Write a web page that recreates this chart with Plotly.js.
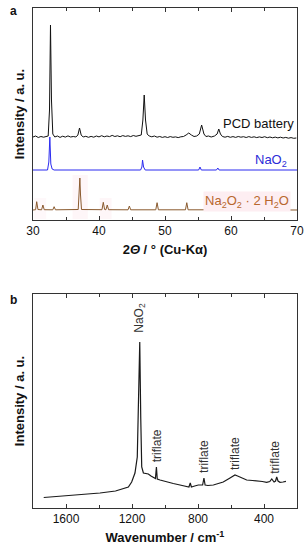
<!DOCTYPE html>
<html>
<head>
<meta charset="utf-8">
<script src="https://cdn.plot.ly/plotly-3.0.1.min.js"></script>
<style>html,body{margin:0;padding:0;background:#fff;}#chart{width:305px;height:550px;}</style>
</head>
<body>
<div id="chart"></div>
<script>
// ---- Panel a: XRD (2θ in degrees, intensity in arbitrary offset units) ----
const pcdX = [30,30.4,30.8,31.2,31.6,32.0,32.3,32.5,32.65,32.8,33.0,33.3,33.7,34.1,34.5,34.9,35.3,35.7,36.1,36.5,36.8,37.05,37.3,37.6,38.0,38.4,38.8,39.2,39.6,40.0,40.4,40.8,41.2,41.6,42.0,42.4,42.8,43.2,43.6,44.0,44.4,44.8,45.2,45.6,46.0,46.4,46.65,46.85,47.05,47.3,47.6,48.0,48.4,48.8,49.2,49.6,50.0,50.4,50.8,51.2,51.6,52.0,52.4,52.8,53.2,53.6,54.0,54.4,54.8,55.2,55.55,55.9,56.2,56.6,57.0,57.5,57.9,58.15,58.4,58.7,59.1,59.5,59.9,60.3,60.7,61.1,61.5,61.9,62.3,62.7,63.1,63.5,63.9,64.3,64.7,65.1,65.5,65.9,66.3,66.7,67.1,67.5,67.9,68.3,68.7,69.1,69.5,69.9];
const pcdY = [83,84,82.5,83.5,82.8,83.6,84,110,195,120,86,83,84,82.6,83.8,82.9,84.1,83,83.5,83,85,92,85,83,83.7,82.7,83.6,82.8,84,83.1,84.3,83.2,84,83.4,84.6,83.5,84.2,83.3,84.4,83.6,84.2,83.4,84.5,83.7,84,85,100,125,100,86,84,83.2,84,82.8,83.5,82.6,83.3,82.5,83.4,82.7,83.1,82.4,83.2,83.5,85,87,85,83.5,84,86,95,86,83.5,84,83,84,86,91,86,83.5,82.8,83.6,82.7,83.4,82.6,83.5,82.8,83.3,82.5,83.4,82.6,83.2,82.4,83.1,82.5,83.3,82.3,83,82.2,82.9,82.1,82.8,82,82.6,81.8,82.4,81.7,82];

const naO2X = [30,32.2,32.4,32.55,32.7,32.9,33.2,46.3,46.5,46.6,46.75,47.0,55.1,55.3,55.5,57.8,58.0,58.2,70];
const naO2Y = [50,50,58,83,56,51,50,50,53,60,53,50,50,53,50,50,52,50,50];

const hydX = [30,30.4,30.56,30.75,31.3,31.5,31.7,33.0,33.2,33.4,36.85,37.0,37.1,37.2,37.35,40.45,40.65,40.85,41.05,41.25,41.45,44.4,44.6,44.8,48.6,48.8,49.0,53.1,53.3,53.5,56.5,56.7,56.9,59.2,59.4,59.6,70];
const hydY = [10,10.3,18.3,10.5,10.2,15,10.3,10.2,13.3,10.2,10.5,25,42,25,10.5,10.3,17.7,10.5,10.3,15,10.3,10.2,14,10.2,10.2,17.3,10.2,10.2,17.3,10.2,10.2,17.3,10.2,10.1,12,10.1,10];

const xrdTicks = [30,40,50,60,70];
const xrdMinorTicks = [35,45,55,65];

// ---- Panel b: Raman (wavenumber in cm-1, intensity a.u.) ----
const ramanX = [1735,1650,1556,1450,1394,1300,1253,1222,1202,1182,1168,1160,1153,1147,1141,1131,1115,1101,1085,1070,1058,1052,1047,1030,990,950,909,869,855,847,840,820,798,772,764,757,740,707,670,647,606,590,576,560,545,525,505,470,444,410,384,365,353,345,339,330,323,315,303,285,267];
const ramanY = [10.5,11.5,12.5,14,15,17,19,21,26,35,51,100,166,90,41,35,34.5,34,32,31,29.5,41,29,28,26,24.5,23,21,21,25,21,22,23,23,30,23,22.5,23,24.5,26,30,32,33,32,31,29,28,27.5,27.3,26.5,25.7,26.5,29,26.5,26,27,31,27,25.7,26,26.7];

const ramanTicks = [1600,1200,800,400];
const ramanMinorTicks = [1400,1000,600,200];

// label positions (wavenumber, intensity) for peak labels
const ramanLabels = ['NaO<sub>2</sub>','triflate','triflate','triflate','triflate'];
const ramanLabelX = [1153,1050,764,576,335];
const ramanLabelY = [190,62.5,52,55,51];

const FONT = 'Arial, "Liberation Sans", sans-serif';
const AX = '#333';

const traces = [
  {x: pcdX, y: pcdY, xaxis:'x', yaxis:'y', mode:'lines', line:{color:'#111', width:1}, hoverinfo:'skip'},
  {x: naO2X, y: naO2Y, xaxis:'x', yaxis:'y', mode:'lines', line:{color:'#2b2bf0', width:1}, hoverinfo:'skip'},
  {x: hydX, y: hydY, xaxis:'x', yaxis:'y', mode:'lines', line:{color:'#8a5a2e', width:1}, hoverinfo:'skip'},
  {x: ramanX, y: ramanY, xaxis:'x2', yaxis:'y2', mode:'lines', line:{color:'#1a1a1a', width:1.2}, hoverinfo:'skip'}
];

const annotations = [
  {text:'<b>a</b>', xref:'paper', yref:'paper', x:-0.075, y:0.994, xanchor:'center', yanchor:'middle', showarrow:false, font:{size:12, color:'#111'}},
  {text:'<b>b</b>', xref:'paper', yref:'paper', x:-0.075, y:0.416, xanchor:'center', yanchor:'middle', showarrow:false, font:{size:12, color:'#111'}},
  {text:'PCD battery', xref:'x', yref:'y', x:69.8, y:97, xanchor:'right', yanchor:'middle', showarrow:false, font:{size:13, color:'#111'}},
  {text:'NaO<sub>2</sub>', xref:'x', yref:'y', x:68.8, y:60, xanchor:'right', yanchor:'middle', showarrow:false, font:{size:13, color:'#2b2bd8'}},
  {text:'Na<sub>2</sub>O<sub>2</sub> · 2 H<sub>2</sub>O', xref:'x', yref:'y', x:69.1, y:19, xanchor:'right', yanchor:'middle', showarrow:false, bgcolor:'#fdeef2', font:{size:13, color:'#b8672e'}}
];
ramanLabels.forEach((t,i)=>{
  annotations.push({text:t, xref:'x2', yref:'y2', x:ramanLabelX[i], y:ramanLabelY[i], textangle:-90, xanchor:'center', yanchor:'middle', showarrow:false, font:{size:12, color:'#333'}});
});

const layout = {
  width:305, height:550,
  margin:{l:33, r:8, t:8, b:42},
  paper_bgcolor:'#fff', plot_bgcolor:'#fff',
  showlegend:false,
  font:{family:FONT, color:'#111', size:12},
  xaxis:{domain:[0,1], anchor:'y', range:[30,70], tickvals:xrdTicks, ticks:'inside', ticklen:4, tickcolor:AX,
    minor:{tickvals:xrdMinorTicks, ticks:'inside', ticklen:3, tickcolor:AX},
    showline:true, linecolor:AX, linewidth:1, mirror:'ticks', showgrid:false, zeroline:false,
    tickfont:{size:12, color:'#111'},
    title:{text:'<b>2<i>Θ</i> / ° (Cu-Kα)</b>', font:{size:13, color:'#111'}, standoff:7}},
  yaxis:{domain:[0.576,1], anchor:'x', range:[0,212], showticklabels:false, ticks:'', showline:true, linecolor:AX, mirror:true, showgrid:false, zeroline:false,
    title:{text:'<b>Intensity / a. u.</b>', font:{size:13, color:'#111'}, standoff:4}},
  xaxis2:{domain:[0,1], anchor:'y2', range:[1800,200], tickvals:ramanTicks, ticks:'inside', ticklen:4, tickcolor:AX,
    minor:{tickvals:ramanMinorTicks, ticks:'inside', ticklen:3, tickcolor:AX},
    showline:true, linecolor:AX, linewidth:1, mirror:'ticks', showgrid:false, zeroline:false,
    tickfont:{size:12, color:'#111'},
    title:{text:'<b>Wavenumber / cm<sup>-1</sup></b>', font:{size:13, color:'#111'}, standoff:7}},
  yaxis2:{domain:[0,0.428], anchor:'x2', range:[0,214], showticklabels:false, ticks:'', showline:true, linecolor:AX, mirror:true, showgrid:false, zeroline:false,
    title:{text:'<b>Intensity / a. u.</b>', font:{size:13, color:'#111'}, standoff:4}},
  shapes:[
    {type:'rect', xref:'x', yref:'y', x0:36.0, x1:38.3, y0:1, y1:45, fillcolor:'#fef6f8', line:{width:0}, layer:'below'},
    {type:'rect', xref:'x', yref:'y', x0:40.1, x1:41.9, y0:1, y1:22, fillcolor:'#fef6f8', line:{width:0}, layer:'below'},
    {type:'rect', xref:'x', yref:'y', x0:30.2, x1:32.0, y0:1, y1:22, fillcolor:'#fef8fa', line:{width:0}, layer:'below'}
  ],
  annotations:annotations
};

Plotly.newPlot('chart', traces, layout, {staticPlot:true, displayModeBar:false});
</script>
</body>
</html>
